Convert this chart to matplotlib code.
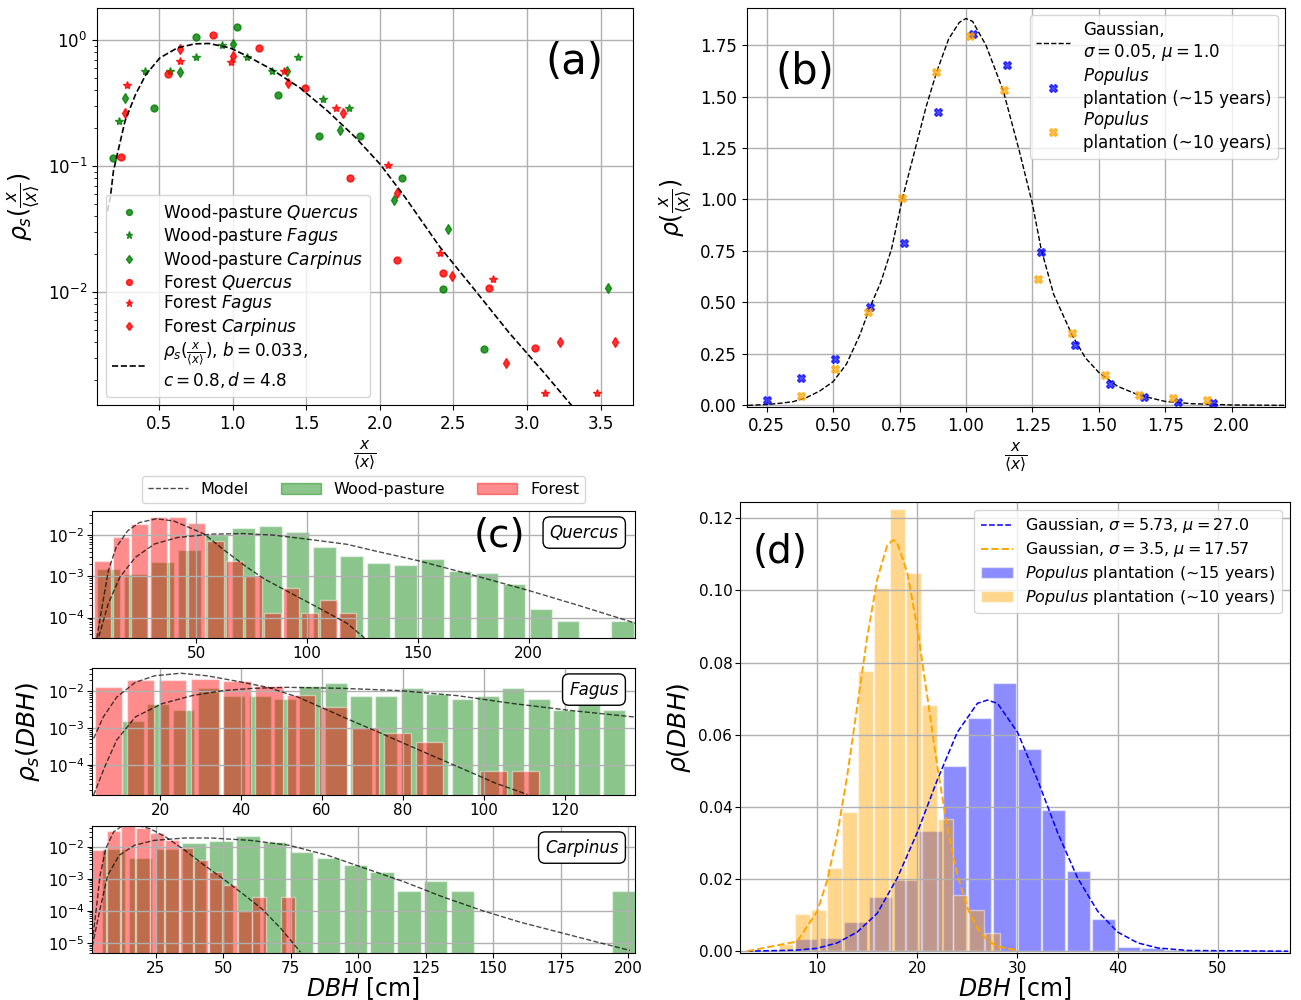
import matplotlib
matplotlib.use("Agg")
import matplotlib.pyplot as plt
from matplotlib.patches import Patch
from matplotlib.lines import Line2D

# ---------------- (a) scaled DBH distributions ----------------
wp_quercus_x = [0.191, 0.469, 0.752, 1.032, 1.31, 1.59, 1.868, 2.151, 2.431, 2.709]
wp_quercus_y = [0.116, 0.29, 1.06, 1.27, 0.37, 0.172, 0.172, 0.081, 0.0105, 0.00353]
wp_fagus_x = [0.229, 0.405, 0.578, 0.752, 0.928, 1.096, 1.267, 1.443, 1.616, 1.79]
wp_fagus_y = [0.23, 0.574, 0.574, 0.741, 0.912, 0.741, 0.574, 0.741, 0.344, 0.287]
wp_carpinus_x = [0.272, 0.640, 1.004, 1.369, 1.73, 2.096, 2.46, 3.552]
wp_carpinus_y = [0.348, 0.561, 0.94, 0.568, 0.192, 0.054, 0.0316, 0.0107]
f_quercus_x = [0.246, 0.559, 0.868, 1.179, 1.493, 1.80, 2.118, 2.429, 2.74, 3.053]
f_quercus_y = [0.119, 0.534, 1.09, 0.869, 0.416, 0.0798, 0.0179, 0.0143, 0.0108, 0.00361]
f_fagus_x = [0.281, 0.640, 0.992, 1.35, 1.702, 2.056, 2.407, 2.768, 3.12, 3.476]
f_fagus_y = [0.44, 0.681, 0.673, 0.574, 0.287, 0.1025, 0.0203, 0.0126, 0.00159, 0.00159]
f_carpinus_x = [0.267, 0.640, 1.006, 1.376, 1.747, 2.118, 2.488, 2.857, 3.227, 3.595]
f_carpinus_y = [0.262, 0.853, 0.746, 0.453, 0.264, 0.0607, 0.0134, 0.00272, 0.00403, 0.00403]

model_a_x = [0.151, 0.170, 0.191, 0.222, 0.27, 0.341, 0.412, 0.507, 0.626, 0.745, 0.84,
             0.982, 1.101, 1.267, 1.457, 1.647, 1.837, 2.004, 2.17, 2.407, 2.645, 2.882,
             3.12, 3.31]
model_a_y = [0.044, 0.056, 0.091, 0.131, 0.228, 0.37, 0.534, 0.724, 0.869, 0.935, 0.941,
             0.869, 0.746, 0.585, 0.419, 0.273, 0.168, 0.103, 0.057, 0.0229, 0.0104, 0.0047,
             0.00226, 0.00123]

# ---------------- (b) Populus scaled distributions ----------------
pop15_x = [0.25, 0.378, 0.507, 0.638, 0.766, 0.895, 1.026, 1.155, 1.283, 1.412, 1.541,
           1.670, 1.80, 1.929]
pop15_y = [0.028, 0.133, 0.225, 0.48, 0.789, 1.423, 1.805, 1.652, 0.746, 0.292, 0.104,
           0.042, 0.015, 0.010]
pop10_x = [0.378, 0.507, 0.633, 0.761, 0.888, 1.016, 1.142, 1.271, 1.398, 1.524, 1.652,
           1.778, 1.908]
pop10_y = [0.044, 0.175, 0.452, 1.008, 1.618, 1.792, 1.531, 0.613, 0.350, 0.146, 0.052,
           0.036, 0.028]
gauss_b_x = [0.18, 0.25, 0.30, 0.35, 0.40, 0.45, 0.50, 0.55, 0.60, 0.64, 0.68, 0.72, 0.76,
             0.80, 0.85, 0.89, 0.935, 0.975, 1.0, 1.025, 1.075, 1.14, 1.20, 1.25, 1.283,
             1.33, 1.40, 1.45, 1.50, 1.57, 1.65, 1.75, 1.85, 2.0, 2.2]
gauss_b_y = [0.0, 0.004, 0.010, 0.018, 0.038, 0.07, 0.115, 0.20, 0.34, 0.48, 0.60, 0.76, 1.0,
             1.2, 1.45, 1.62, 1.78, 1.86, 1.879, 1.865, 1.75, 1.53, 1.24, 0.98, 0.76,
             0.54, 0.34, 0.23, 0.16, 0.093, 0.05, 0.019, 0.008, 0.002, 0.0]

# ---------------- (c) DBH histograms ----------------
q_wp_x = [10.4, 22.6, 34.8, 47.0, 59.2, 71.4, 83.6, 95.8, 108.0, 120.2, 132.4, 144.6, 156.8,
          169.0, 181.2, 193.4, 205.6, 217.8, 230.0, 242.2]
q_wp_y = [1.47e-3, 1.12e-3, 2.17e-3, 4.45e-3, 1.0e-2, 1.47e-2, 1.67e-2, 1.2e-2, 5.25e-3,
          3.19e-3, 2.09e-3, 1.84e-3, 2.65e-3, 1.32e-3, 1.2e-3, 6.43e-4, 1.61e-4, 8.3e-5, 0,
          8.1e-5]
q_f_x = [7.6, 16.1, 24.6, 33.2, 41.7, 50.2, 58.7, 67.2, 75.8, 84.3, 92.8, 101.3, 109.8, 118.4]
q_f_y = [2.42e-3, 8.8e-3, 1.9e-2, 2.75e-2, 2.75e-2, 1.98e-2, 7.05e-3, 2.42e-3, 1.04e-3,
         1.32e-4, 5.25e-4, 1.32e-4, 2.65e-4, 1.32e-4]
q_model_f_x = [5.2, 7.8, 10.4, 13.9, 19.1, 24.3, 32.1, 39.9, 46.9, 53.8, 62, 72.9, 81, 90.3,
               104.2, 118, 126]
q_model_f_y = [3.2e-5, 2.2e-4, 1.39e-3, 5.06e-3, 1.27e-2, 2.01e-2, 2.5e-2, 2.2e-2, 1.53e-2,
               1.05e-2, 4.6e-3, 1.67e-3, 8.5e-4, 4.6e-4, 1.84e-4, 7.3e-5, 3.2e-5]
q_model_wp_x = [6.1, 10.4, 15.6, 22.6, 31.2, 41.7, 57.3, 71.2, 85, 100, 118, 130.2, 150.2,
                175.3, 199.7, 222.2, 248.3]
q_model_wp_y = [3.5e-5, 2.2e-4, 9.6e-4, 2.9e-3, 6.1e-3, 8.8e-3, 1.06e-2, 1.09e-2, 1.0e-2,
                8.0e-3, 6.0e-3, 4.2e-3, 2.4e-3, 1.06e-3, 4.6e-4, 2.0e-4, 7.3e-5]

fa_wp_x = [13.3, 19.6, 25.8, 32.1, 38.3, 44.6, 50.9, 57.1, 63.4, 69.6, 75.9, 82.2, 88.4, 94.7,
           100.9, 107.2, 113.5, 119.7, 126.0, 132.2]
fa_wp_y = [1.53e-3, 4.56e-3, 3.0e-3, 1.2e-2, 7.6e-3, 7.6e-3, 5.97e-3, 1.36e-2, 1.68e-2, 7.6e-3,
           7.6e-3, 1.2e-2, 8.5e-3, 6.1e-3, 7.6e-3, 1.2e-2, 6.1e-3, 3.0e-3, 4.56e-3, 3.0e-3]
fa_f_x = [7.3, 15.2, 23.1, 31.1, 39.0, 46.9, 54.8, 62.7, 70.7, 78.6, 86.5, 94.4, 102.3, 110.3]
fa_f_y = [1.28e-2, 2.02e-2, 2.02e-2, 2.15e-2, 1.86e-2, 1.42e-2, 8.1e-3, 3.7e-3, 9.7e-4, 7.4e-4,
          4.07e-4, 0, 6.6e-5, 6.6e-5]
fa_model_f_x = [3.6, 6.0, 9.3, 13.9, 18.6, 25.1, 31.7, 39.2, 46.6, 54.1, 59.7, 67.2, 74.7,
                82.1, 89.6, 96.2, 102.7, 110.7]
fa_model_f_y = [5.2e-4, 2.0e-3, 6.9e-3, 1.75e-2, 2.63e-2, 3.1e-2, 2.63e-2, 1.86e-2, 1.28e-2,
                6.9e-3, 3.7e-3, 1.6e-3, 7.1e-4, 3.1e-4, 1.36e-4, 6.6e-5, 3.2e-5, 1.55e-5]
fa_model_wp_x = [3.6, 6.4, 9.3, 13.9, 20.5, 27.9, 35.4, 42.9, 51.3, 65.3, 79.3, 93.4, 107.4,
                 121.4, 137]
fa_model_wp_y = [1.5e-5, 9e-5, 4.7e-4, 2.0e-3, 4.6e-3, 7.6e-3, 1.04e-2, 1.2e-2, 1.28e-2,
                 1.2e-2, 1.04e-2, 7.6e-3, 4.6e-3, 3.0e-3, 2.0e-3]

ca_wp_x = [9.3, 19.3, 29.2, 39.2, 49.1, 59.1, 69.0, 79.0, 88.9, 98.9, 108.8, 118.8, 128.7,
           138.7, 148.6, 158.6, 168.5, 178.5, 188.4, 198.4]
ca_wp_y = [8.9e-3, 4.5e-3, 8.9e-3, 1.33e-2, 1.5e-2, 2.2e-2, 1.43e-2, 7e-3, 4.5e-3, 2.8e-3,
           1.66e-3, 4.1e-4, 8.5e-4, 4.1e-4, 0, 0, 0, 0, 0, 4.1e-4]
ca_f_x = [3.9, 9.3, 14.7, 20.1, 25.5, 30.9, 36.3, 41.7, 47.1, 52.5, 57.9, 63.3, 68.7, 74.1]
ca_f_y = [7.9e-3, 3.2e-2, 4.75e-2, 4.0e-2, 2.8e-2, 1.7e-2, 9.5e-3, 3.8e-3, 1.66e-3, 6.6e-4,
          1.0e-4, 2.75e-4, 0, 2.75e-4]
ca_model_f_x = [1.4, 2.9, 4.3, 6.4, 9.3, 12.9, 17.1, 22.9, 28.6, 35.7, 42.9, 50, 57.1, 64.3,
                71.4, 78.6]
ca_model_f_y = [1.07e-5, 1.17e-4, 1.3e-3, 8.9e-3, 2.95e-2, 4.75e-2, 4.9e-2, 3.7e-2, 2.05e-2,
                7.9e-3, 2.7e-3, 1e-3, 3.5e-4, 1.17e-4, 2.8e-5, 5.2e-6]
ca_model_wp_x = [1.4, 4.3, 7.1, 11.4, 17.1, 24.3, 35.7, 45.7, 60, 74.3, 88.6, 102.9, 117.1,
                 131.4, 145.7, 160, 174.3, 188.6, 200.7]
ca_model_wp_y = [8e-6, 1.17e-4, 1.3e-3, 5.5e-3, 1.13e-2, 1.6e-2, 1.9e-2, 1.9e-2, 1.6e-2,
                 1.13e-2, 5.5e-3, 2.1e-3, 8.1e-4, 2.75e-4, 1.05e-4, 4.5e-5, 2.2e-5, 1.07e-5,
                 5.9e-6]

# ---------------- (d) Populus DBH histograms ----------------
d15_x = [8.9, 11.4, 13.8, 16.3, 18.8, 21.3, 23.7, 26.2, 28.7, 31.2, 33.6, 36.1, 38.6, 41.1,
         43.5, 46.0, 48.5, 51.0, 53.4]
d15_y = [0.0034, 0.0037, 0.0082, 0.0151, 0.0196, 0.0333, 0.0512, 0.0645, 0.0744, 0.056,
         0.0392, 0.0223, 0.009, 0.0012, 0.0009, 0.0004, 0, 0, 0.0004]
d10_x = [6.9, 8.5, 10.1, 11.7, 13.2, 14.8, 16.4, 18.0, 19.6, 21.2, 22.8, 24.3, 25.9, 27.5]
d10_y = [0.0019, 0.0103, 0.0113, 0.0231, 0.0387, 0.0776, 0.1006, 0.1226, 0.1048, 0.0681,
         0.0367, 0.0157, 0.0114, 0.0051]
g15_x = [3, 8, 10, 12, 14, 16, 18, 20, 22, 24, 26, 27, 28, 30, 32, 34, 36, 38, 40, 42, 44,
         47, 57]
g15_y = [0.0, 0.0003, 0.0008, 0.0023, 0.0053, 0.0105, 0.0203, 0.0329, 0.0475, 0.0607, 0.0687,
         0.0696, 0.0687, 0.0607, 0.0475, 0.0329, 0.0203, 0.0111, 0.0053, 0.0023, 0.0009,
         0.0002, 0.0]
g10_x = [3, 8, 10, 11, 12, 13, 14, 15, 16, 17, 17.6, 18, 19, 20, 21, 22, 23, 24, 25, 26, 27,
         28, 30]
g10_y = [0.0, 0.0027, 0.011, 0.0196, 0.0322, 0.0486, 0.0678, 0.0871, 0.1031, 0.1125, 0.114,
         0.1131, 0.1049, 0.0896, 0.0705, 0.0512, 0.0342, 0.0211, 0.0120, 0.0063, 0.0030,
         0.0013, 0.0002]

fig = plt.figure(figsize=(13.01, 10), dpi=100)
frac = r'\frac{x}{\langle x \rangle}'

# ---- panel (a) ----
ax = fig.add_axes([0.0746, 0.595, 0.412, 0.397])
ax.plot(wp_quercus_x, wp_quercus_y, 'o', color='green', alpha=0.8, ms=5,
        label=r'Wood-pasture $\it{Quercus}$')
ax.plot(wp_fagus_x, wp_fagus_y, '*', color='green', alpha=0.8, ms=6,
        label=r'Wood-pasture $\it{Fagus}$')
ax.plot(wp_carpinus_x, wp_carpinus_y, 'd', color='green', alpha=0.8, ms=5,
        label=r'Wood-pasture $\it{Carpinus}$')
ax.plot(f_quercus_x, f_quercus_y, 'o', color='red', alpha=0.8, ms=5,
        label=r'Forest $\it{Quercus}$')
ax.plot(f_fagus_x, f_fagus_y, '*', color='red', alpha=0.8, ms=6,
        label=r'Forest $\it{Fagus}$')
ax.plot(f_carpinus_x, f_carpinus_y, 'd', color='red', alpha=0.8, ms=5,
        label=r'Forest $\it{Carpinus}$')
ax.plot(model_a_x, model_a_y, 'k--', lw=1.2,
        label=r'$\rho_s(' + frac + r')$, $b = 0.033$,' + '\n' + r'$c = 0.8, d = 4.8$')
ax.set_yscale('log')
ax.set_xlim(0.08, 3.72)
ax.set_ylim(1.27e-3, 1.8)
ax.set_xticks([0.5, 1.0, 1.5, 2.0, 2.5, 3.0, 3.5])
ax.tick_params(labelsize=12)
ax.grid(True, color='#b0b0b0', lw=1)
ax.set_xlabel(r'$' + frac + r'$', fontsize=16)
ax.set_ylabel(r'$\rho_s(' + frac + r')$', fontsize=17)
ax.legend(loc='lower left', fontsize=12.2, handletextpad=1.0, labelspacing=0.1,
          markerscale=0.85)
ax.text(0.89, 0.865, '(a)', transform=ax.transAxes, fontsize=30, ha='center', va='center')

# ---- panel (b) ----
ax = fig.add_axes([0.574, 0.593, 0.4135, 0.399])
ax.plot(gauss_b_x, gauss_b_y, 'k--', lw=1,
        label='Gaussian,\n' + r'$\sigma = 0.05$, $\mu = 1.0$')
ax.plot(pop15_x, pop15_y, 'X', color='blue', alpha=0.7, ms=6, ls='none',
        label=r'$\it{Populus}$' + '\nplantation (~15 years)')
ax.plot(pop10_x, pop10_y, 'X', color='orange', alpha=0.7, ms=6, ls='none',
        label=r'$\it{Populus}$' + '\nplantation (~10 years)')
ax.set_xlim(0.175, 2.2)
ax.set_ylim(-0.008, 1.93)
ax.set_xticks([0.25, 0.5, 0.75, 1.0, 1.25, 1.5, 1.75, 2.0])
ax.set_yticks([0, 0.25, 0.5, 0.75, 1.0, 1.25, 1.5, 1.75])
ax.tick_params(labelsize=12)
ax.grid(True, color='#b0b0b0', lw=1)
ax.set_xlabel(r'$' + frac + r'$', fontsize=16)
ax.set_ylabel(r'$\rho(' + frac + r')$', fontsize=17)
ax.legend(loc='upper right', fontsize=12, labelspacing=0.1, borderaxespad=0.4)
ax.text(0.108, 0.84, '(b)', transform=ax.transAxes, fontsize=30, ha='center', va='center')


# ---- panel (c) ----
def hist_panel(ax, wp_x, wp_y, wp_w, f_x, f_y, f_w, mwp_x, mwp_y, mf_x, mf_y, name):
    wx = [x for x, y in zip(wp_x, wp_y) if y > 0]
    wy = [y for y in wp_y if y > 0]
    fx = [x for x, y in zip(f_x, f_y) if y > 0]
    fy = [y for y in f_y if y > 0]
    ax.bar(wx, wy, width=wp_w, color='green', alpha=0.45, edgecolor='white', lw=1)
    ax.bar(fx, fy, width=f_w, color='red', alpha=0.45, edgecolor='white', lw=1)
    ax.plot(mwp_x, mwp_y, '--', color='k', alpha=0.7, lw=1)
    ax.plot(mf_x, mf_y, '--', color='k', alpha=0.7, lw=1)
    ax.set_yscale('log')
    ax.grid(True, color='#b0b0b0', lw=1)
    ax.tick_params(labelsize=11, pad=2)
    ax.text(0.97, 0.83, name, transform=ax.transAxes, fontsize=12, style='italic',
            ha='right', va='center',
            bbox=dict(boxstyle='round,pad=0.4', fc='white', ec='black'))


c1 = fig.add_axes([0.0707, 0.362, 0.4174, 0.127])
hist_panel(c1, q_wp_x, q_wp_y, 10.3, q_f_x, q_f_y, 7.6, q_model_wp_x, q_model_wp_y,
           q_model_f_x, q_model_f_y, 'Quercus')
c1.set_xlim(3, 248)
c1.set_ylim(3.2e-5, 0.0385)
c1.set_xticks([50, 100, 150, 200])
c1.text(0.75, 0.8, '(c)', transform=c1.transAxes, fontsize=28, ha='center', va='center')
handles = [Line2D([0], [0], color='k', alpha=0.7, ls='--', lw=1),
           Patch(color='green', alpha=0.45), Patch(color='red', alpha=0.45)]
c1.legend(handles, ['Model', 'Wood-pasture', 'Forest'], loc='lower center',
          bbox_to_anchor=(0.5, 1.06), ncol=3, fontsize=11.5, handlelength=2.5,
          columnspacing=2.0, borderaxespad=0)

c2 = fig.add_axes([0.0707, 0.205, 0.4174, 0.127])
hist_panel(c2, fa_wp_x, fa_wp_y, 5.4, fa_f_x, fa_f_y, 6.8, fa_model_wp_x, fa_model_wp_y,
           fa_model_f_x, fa_model_f_y, 'Fagus')
c2.set_xlim(3.2, 137.3)
c2.set_ylim(1.5e-5, 0.043)
c2.set_xticks([20, 40, 60, 80, 100, 120])
c2.set_ylabel(r'$\rho_s(DBH)$', fontsize=18)

c3 = fig.add_axes([0.0707, 0.047, 0.4174, 0.127])
hist_panel(c3, ca_wp_x, ca_wp_y, 8.7, ca_f_x, ca_f_y, 5.1, ca_model_wp_x, ca_model_wp_y,
           ca_model_f_x, ca_model_f_y, 'Carpinus')
c3.set_xlim(1.3, 202.6)
c3.set_ylim(4.9e-6, 0.045)
c3.set_xticks([25, 50, 75, 100, 125, 150, 175, 200])
c3.set_xlabel(r'$DBH$ [cm]', fontsize=17, labelpad=0)

# ---- panel (d) ----
ax = fig.add_axes([0.5688, 0.047, 0.4227, 0.451])
ax.bar([x for x, y in zip(d15_x, d15_y) if y > 0], [y for y in d15_y if y > 0],
       width=2.3, color='blue', alpha=0.45, edgecolor='white', lw=1,
       label=r'$\it{Populus}$ plantation (~15 years)')
ax.bar(d10_x, d10_y, width=1.48, color='orange', alpha=0.45, edgecolor='white', lw=1,
       label=r'$\it{Populus}$ plantation (~10 years)')
ax.plot(g15_x, g15_y, '--', color='blue', lw=1.1,
        label=r'Gaussian, $\sigma = 5.73$, $\mu = 27.0$')
ax.plot(g10_x, g10_y, '--', color='orange', lw=1.4,
        label=r'Gaussian, $\sigma = 3.5$, $\mu = 17.57$')
ax.set_xlim(2.3, 57.2)
ax.set_ylim(-0.0005, 0.1245)
ax.set_xticks([10, 20, 30, 40, 50])
ax.set_yticks([0, 0.02, 0.04, 0.06, 0.08, 0.10, 0.12])
ax.tick_params(labelsize=11, pad=2)
ax.grid(True, color='#b0b0b0', lw=1)
ax.set_xlabel(r'$DBH$ [cm]', fontsize=17, labelpad=0)
ax.set_ylabel(r'$\rho(DBH)$', fontsize=18)
ax.legend(loc='upper right', fontsize=11.5, labelspacing=0.3)
ax.text(0.073, 0.889, '(d)', transform=ax.transAxes, fontsize=28, ha='center', va='center')

fig.savefig('out.png', dpi=100)
